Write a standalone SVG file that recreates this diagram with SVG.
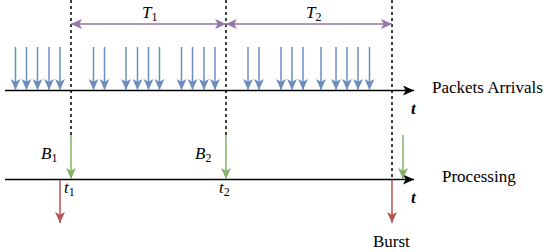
<svg xmlns="http://www.w3.org/2000/svg" width="550" height="252" viewBox="0 0 550 252">
<style>
.ax{stroke:#000;stroke-width:1.5;fill:none}
.dash{stroke:#000;stroke-width:1.5;stroke-dasharray:3 3;fill:none}
.blue{stroke:#6C8EBF;stroke-width:1.5;fill:none}
.green{stroke:#82B366;stroke-width:1.5;fill:none}
.red{stroke:#B85450;stroke-width:1.5;fill:none}
.purple{stroke:#9673A6;stroke-width:1.5;fill:none}
text{font-family:"Liberation Serif","Times New Roman",Times,serif;fill:#000}
.lbl{font-size:17px}
.math{font-style:italic;font-size:17px}
.sub{font-size:12px;font-style:normal}
.tb{font-style:italic;font-weight:bold;font-size:17px}
</style>
<defs>
<marker id="mk" markerUnits="userSpaceOnUse" viewBox="0 0 10 9" markerWidth="11" markerHeight="10" refX="10" refY="4.5" orient="auto"><path d="M0,0 L10,4.5 L0,9 L2.5,4.5 z" fill="#000"/></marker>
<marker id="mb" markerUnits="userSpaceOnUse" viewBox="0 0 10 9" markerWidth="11" markerHeight="10" refX="10" refY="4.5" orient="auto"><path d="M0,0 L10,4.5 L0,9 L2.5,4.5 z" fill="#6C8EBF"/></marker>
<marker id="mg" markerUnits="userSpaceOnUse" viewBox="0 0 10 9" markerWidth="11" markerHeight="10" refX="10" refY="4.5" orient="auto"><path d="M0,0 L10,4.5 L0,9 L2.5,4.5 z" fill="#82B366"/></marker>
<marker id="mr" markerUnits="userSpaceOnUse" viewBox="0 0 10 9" markerWidth="11" markerHeight="10" refX="10" refY="4.5" orient="auto"><path d="M0,0 L10,4.5 L0,9 L2.5,4.5 z" fill="#B85450"/></marker>
<marker id="mp" markerUnits="userSpaceOnUse" viewBox="0 0 10 9" markerWidth="11" markerHeight="10" refX="10" refY="4.5" orient="auto-start-reverse"><path d="M0,0 L10,4.5 L0,9 L2.5,4.5 z" fill="#9673A6"/></marker>
</defs>

<g id="connectors">
  <line class="dash" x1="71" y1="0" x2="71" y2="135"/>
  <line class="dash" x1="226" y1="0" x2="226" y2="135"/>
  <line class="dash" x1="392" y1="0" x2="392" y2="179"/>
  <line class="purple" x1="71" y1="24" x2="226" y2="24" marker-start="url(#mp)" marker-end="url(#mp)"/>
  <line class="purple" x1="226" y1="24" x2="392" y2="24" marker-start="url(#mp)" marker-end="url(#mp)"/>
  <line class="ax" x1="5" y1="90.5" x2="414" y2="90.5" marker-end="url(#mk)"/>
  <line class="ax" x1="5" y1="179.5" x2="414" y2="179.5" marker-end="url(#mk)"/>
  <g id="arrivals">
    <line class="blue" x1="15.5" y1="47" x2="15.5" y2="90" marker-end="url(#mb)"/>
    <line class="blue" x1="26.5" y1="47" x2="26.5" y2="90" marker-end="url(#mb)"/>
    <line class="blue" x1="37.5" y1="47" x2="37.5" y2="90" marker-end="url(#mb)"/>
    <line class="blue" x1="49" y1="47" x2="49" y2="90" marker-end="url(#mb)"/>
    <line class="blue" x1="60" y1="47" x2="60" y2="90" marker-end="url(#mb)"/>
    <line class="blue" x1="93.5" y1="47" x2="93.5" y2="90" marker-end="url(#mb)"/>
    <line class="blue" x1="104.5" y1="47" x2="104.5" y2="90" marker-end="url(#mb)"/>
    <line class="blue" x1="126" y1="47" x2="126" y2="90" marker-end="url(#mb)"/>
    <line class="blue" x1="137.5" y1="47" x2="137.5" y2="90" marker-end="url(#mb)"/>
    <line class="blue" x1="148.5" y1="47" x2="148.5" y2="90" marker-end="url(#mb)"/>
    <line class="blue" x1="159.5" y1="47" x2="159.5" y2="90" marker-end="url(#mb)"/>
    <line class="blue" x1="181.5" y1="47" x2="181.5" y2="90" marker-end="url(#mb)"/>
    <line class="blue" x1="192.5" y1="47" x2="192.5" y2="90" marker-end="url(#mb)"/>
    <line class="blue" x1="204" y1="47" x2="204" y2="90" marker-end="url(#mb)"/>
    <line class="blue" x1="215" y1="47" x2="215" y2="90" marker-end="url(#mb)"/>
    <line class="blue" x1="248" y1="47" x2="248" y2="90" marker-end="url(#mb)"/>
    <line class="blue" x1="259" y1="47" x2="259" y2="90" marker-end="url(#mb)"/>
    <line class="blue" x1="281" y1="47" x2="281" y2="90" marker-end="url(#mb)"/>
    <line class="blue" x1="292" y1="47" x2="292" y2="90" marker-end="url(#mb)"/>
    <line class="blue" x1="303" y1="47" x2="303" y2="90" marker-end="url(#mb)"/>
    <line class="blue" x1="321" y1="47" x2="321" y2="90" marker-end="url(#mb)"/>
    <line class="blue" x1="336" y1="47" x2="336" y2="90" marker-end="url(#mb)"/>
    <line class="blue" x1="347" y1="47" x2="347" y2="90" marker-end="url(#mb)"/>
    <line class="blue" x1="358" y1="47" x2="358" y2="90" marker-end="url(#mb)"/>
    <line class="blue" x1="369.5" y1="47" x2="369.5" y2="90" marker-end="url(#mb)"/>
  </g>
  <line class="green" x1="71" y1="135" x2="71" y2="179" marker-end="url(#mg)"/>
  <line class="green" x1="226" y1="135" x2="226" y2="179" marker-end="url(#mg)"/>
  <line class="green" x1="403" y1="135" x2="403" y2="179" marker-end="url(#mg)"/>
  <line class="red" x1="60" y1="180" x2="60" y2="223" marker-end="url(#mr)"/>
  <line class="red" x1="392" y1="180" x2="392" y2="223" marker-end="url(#mr)"/>
</g>

<g id="labels">
  <text class="math" x="142" y="18">T<tspan class="sub" dy="3">1</tspan></text>
  <text class="math" x="306" y="18">T<tspan class="sub" dy="3">2</tspan></text>
  <text class="math" x="41" y="159">B<tspan class="sub" dy="3">1</tspan></text>
  <text class="math" x="195" y="159">B<tspan class="sub" dy="3">2</tspan></text>
  <text class="math" x="64" y="193">t<tspan class="sub" dy="3">1</tspan></text>
  <text class="math" x="219" y="193">t<tspan class="sub" dy="3">2</tspan></text>
  <text class="tb" x="411" y="114">t</text>
  <text class="tb" x="411" y="203">t</text>
  <text class="lbl" x="432" y="93">Packets Arrivals</text>
  <text class="lbl" x="442" y="182">Processing</text>
  <text class="lbl" x="373" y="247">Burst</text>
</g>
</svg>
